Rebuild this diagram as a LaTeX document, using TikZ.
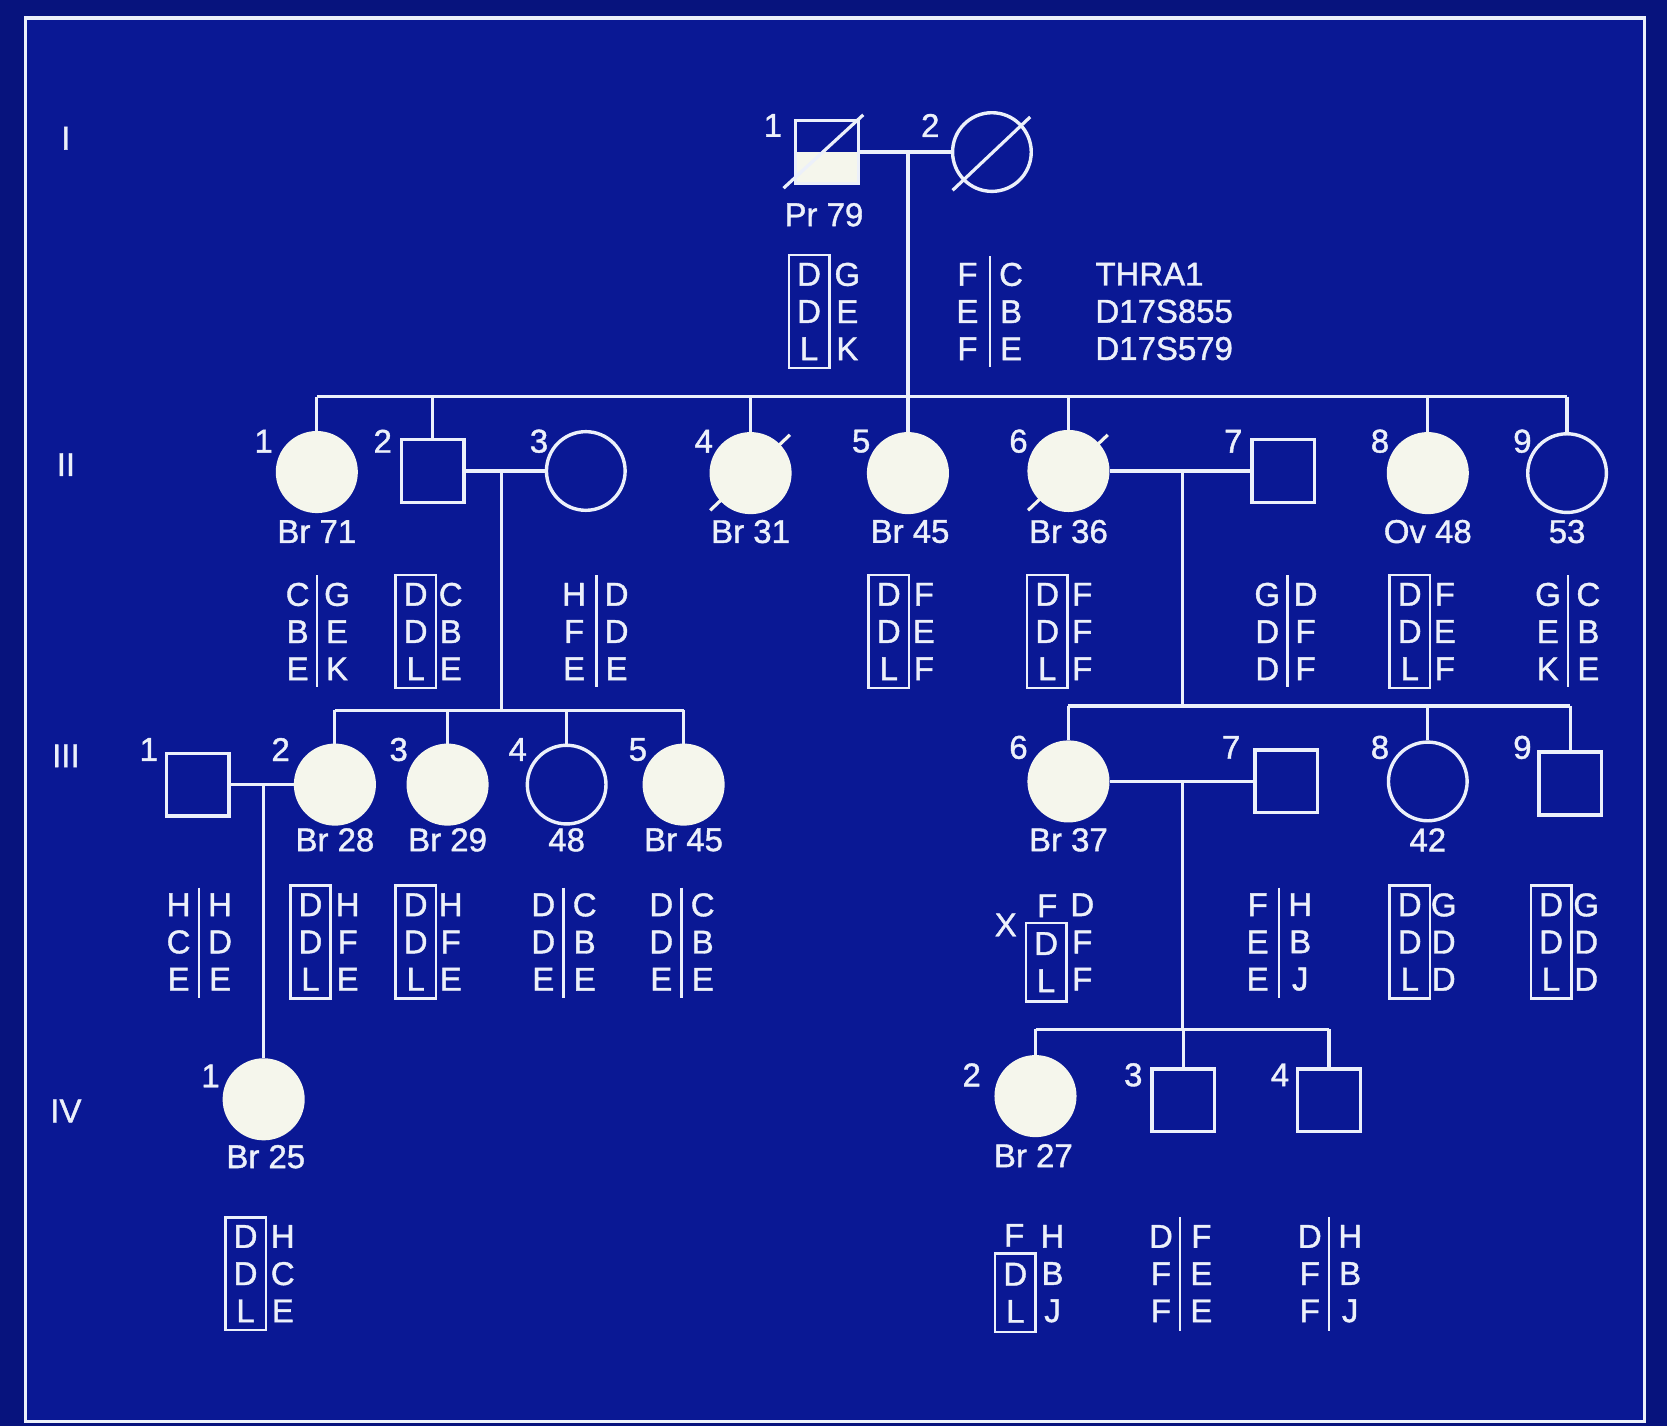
\documentclass[tikz,border=0pt]{standalone}
\usepackage{fontspec}
\setmainfont{Liberation Sans}[FakeBold=1.2]
\usetikzlibrary{calc}
\definecolor{bg}{RGB}{10,24,148}
\definecolor{bgout}{RGB}{7,19,125}
\definecolor{fg}{RGB}{236,240,250}
\definecolor{fgfill}{RGB}{245,246,236}
\newcommand{\hapfont}{\fontsize{15.5}{17.5}\selectfont}
\newcommand{\lblfont}{\fontsize{15.5}{17.5}\selectfont}
\begin{document}
\begin{tikzpicture}[x=0.5pt,y=-0.5pt,
  ind/.style={draw=fg, line width=1.6pt, inner sep=0pt},
  fem/.style={ind, circle, minimum size=37pt},
  affF/.style={fem, fill=fgfill, draw=fgfill},
  mal/.style={ind, rectangle, minimum size=29.5pt},
  halfmal/.style={mal, path picture={\fill[fgfill] (path picture bounding box.west) rectangle (path picture bounding box.south east);}},
  lbl/.style={text=fg, font=\lblfont, inner sep=0pt},
  hap/.style={text=fg, font=\hapfont, align=center, inner sep=0pt},
  hapbox/.style={hap, draw=fg, line width=1.2pt, minimum width=19pt, minimum height=53pt},
  hapboxs/.style={hap, draw=fg, line width=1.2pt, minimum width=19pt, minimum height=37pt},
  conn/.style={draw=fg, line width=1.5pt},
  dec/.style={draw=fgfill, line width=1.5pt},
  bar/.style={draw=fg, line width=1.2pt}]
\useasboundingbox (0,0) rectangle (1568,1341);
\fill[bgout] (0,0) rectangle (1568,1341);
\fill[bg] (24,17) rectangle (1547,1337);
\draw[fg, line width=1.5pt] (24,17) rectangle (1547,1337);

% generation labels
\node[lbl] (gI) at (62,130) {I};
\node[lbl] (gII) at (62,437) {II};
\node[lbl] (gIII) at (62,711) {III};
\node[lbl] (gIV) at (62,1045) {IV};

% ---------- Generation I
\node[halfmal] (I1) at (778,143) {};
\node[fem] (I2) at (933,143) {};
\draw[conn] ($(I1)+(-41,34)$) -- ($(I1)+(34,-35)$);
\draw[conn] ($(I2)+(-37,36)$) -- ($(I2)+(36,-33)$);
\node[lbl] (nI1) at (727,118) {1};
\node[lbl] (nI2) at (875,118) {2};
\node[lbl] (aI1) at (775,202) {Pr 79};
\draw[conn] (I1.east) -- (I2.west);
\coordinate (mI) at (854,143);
\coordinate (sII) at (854,373);
\draw[conn] (mI) -- (sII);

\node[hapbox] (hI1a) at (761,293) {D\\D\\L};
\node[hap] (hI1b) at (797,293) {G\\E\\K};
\node[hap] (hI2a) at (910,293) {F\\E\\F};
\node[hap] (hI2b) at (951,293) {C\\B\\E};
\draw[bar] (931,241) -- (931,345);
\node[hap, align=left, anchor=west] (mk) at (1030,293) {THRA1\\D17S855\\D17S579};

% ---------- Generation II
\node[affF] (II1) at (298,444) {};
\node[mal] (II2) at (407,443) {};
\node[fem] (II3) at (551,443) {};
\node[affF] (II4) at (706,445) {};
\node[affF] (II5) at (854,445) {};
\node[affF] (II6) at (1005,443) {};
\node[mal] (II7) at (1207,443) {};
\node[affF] (II8) at (1343,445) {};
\node[fem] (II9) at (1474,445) {};
\draw[dec] ($(II4)+(-38,35)$) -- ($(II4)+(37,-36)$);
\draw[dec] ($(II6)+(-38,37)$) -- ($(II6)+(37,-34)$);

\draw[conn] (II1.north |- sII) -- (II9.north |- sII);
\foreach \n in {II1,II2,II4,II5,II6,II8,II9} \draw[conn] (\n.north |- sII) -- (\n.north);

\node[lbl] (nII1) at (248,415) {1};
\node[lbl] (nII2) at (360,415) {2};
\node[lbl] (nII3) at (507,415) {3};
\node[lbl] (nII4) at (662,415) {4};
\node[lbl] (nII5) at (810,415) {5};
\node[lbl] (nII6) at (958,415) {6};
\node[lbl] (nII7) at (1160,415) {7};
\node[lbl] (nII8) at (1298,415) {8};
\node[lbl] (nII9) at (1432,415) {9};
\node[lbl] (aII1) at (298,500) {Br 71};
\node[lbl] (aII4) at (706,500) {Br 31};
\node[lbl] (aII5) at (856,500) {Br 45};
\node[lbl] (aII6) at (1005,500) {Br 36};
\node[lbl] (aII8) at (1343,500) {Ov 48};
\node[lbl] (aII9) at (1474,500) {53};

\draw[conn] (II2.east) -- (II3.west);
\coordinate (mII23) at (472,443);
\coordinate (sIIIa) at (472,668);
\draw[conn] (mII23) -- (sIIIa);
\draw[conn] (II6.east) -- (II7.west);
\coordinate (mII67) at (1112,443);
\coordinate (sIIIb) at (1112,664);
\draw[conn] (mII67) -- (sIIIb);

% haplotypes II
\node[hap] (hII1a) at (280,594) {C\\B\\E};
\node[hap] (hII1b) at (317,594) {G\\E\\K};
\draw[bar] (298,541) -- (298,646);
\node[hapbox] (hII2a) at (391,594) {D\\D\\L};
\node[hap] (hII2b) at (424,594) {C\\B\\E};
\node[hap] (hII3a) at (540,594) {H\\F\\E};
\node[hap] (hII3b) at (580,594) {D\\D\\E};
\draw[bar] (561,541) -- (561,646);
\node[hapbox] (hII5a) at (836,594) {D\\D\\L};
\node[hap] (hII5b) at (869,594) {F\\E\\F};
\node[hapbox] (hII6a) at (985,594) {D\\D\\L};
\node[hap] (hII6b) at (1018,594) {F\\F\\F};
\node[hap] (hII7a) at (1192,594) {G\\D\\D};
\node[hap] (hII7b) at (1228,594) {D\\F\\F};
\draw[bar] (1211,541) -- (1211,646);
\node[hapbox] (hII8a) at (1326,594) {D\\D\\L};
\node[hap] (hII8b) at (1359,594) {F\\E\\F};
\node[hap] (hII9a) at (1456,594) {G\\E\\K};
\node[hap] (hII9b) at (1494,594) {C\\B\\E};
\draw[bar] (1475,541) -- (1475,646);

% ---------- Generation III
\node[mal] (III1) at (186,738) {};
\node[affF] (III2) at (315,738) {};
\node[affF] (III3) at (421,738) {};
\node[fem] (III4) at (533,738) {};
\node[affF] (III5) at (643,738) {};
\node[affF] (III6) at (1005,735) {};
\node[mal] (III7) at (1210,735) {};
\node[fem] (III8) at (1343,735) {};
\node[mal] (III9) at (1477,737) {};

\draw[conn] (III2.north |- sIIIa) -- (III5.north |- sIIIa);
\foreach \n in {III2,III3,III4,III5} \draw[conn] (\n.north |- sIIIa) -- (\n.north);
\draw[conn] (III6.north |- sIIIb) -- (III9.north |- sIIIb);
\foreach \n in {III6,III8,III9} \draw[conn] (\n.north |- sIIIb) -- (\n.north);

\node[lbl] (nIII1) at (140,705) {1};
\node[lbl] (nIII2) at (264,705) {2};
\node[lbl] (nIII3) at (375,705) {3};
\node[lbl] (nIII4) at (487,705) {4};
\node[lbl] (nIII5) at (600,705) {5};
\node[lbl] (nIII6) at (958,703) {6};
\node[lbl] (nIII7) at (1158,703) {7};
\node[lbl] (nIII8) at (1298,703) {8};
\node[lbl] (nIII9) at (1432,703) {9};
\node[lbl] (aIII2) at (315,790) {Br 28};
\node[lbl] (aIII3) at (421,790) {Br 29};
\node[lbl] (aIII4) at (533,790) {48};
\node[lbl] (aIII5) at (643,790) {Br 45};
\node[lbl] (aIII6) at (1005,790) {Br 37};
\node[lbl] (aIII8) at (1343,790) {42};

\draw[conn] (III1.east) -- (III2.west);
\coordinate (mIII12) at (248,738);
\draw[conn] (III6.east) -- (III7.west);
\coordinate (mIII67) at (1112,735);
\coordinate (sIV) at (1112,968);
\draw[conn] (mIII67) -- (sIV);

% haplotypes III
\node[hap] (hIII1a) at (168,886) {H\\C\\E};
\node[hap] (hIII1b) at (207,886) {H\\D\\E};
\draw[bar] (187,835) -- (187,939);
\node[hapbox] (hIII2a) at (292,886) {D\\D\\L};
\node[hap] (hIII2b) at (327,886) {H\\F\\E};
\node[hapbox] (hIII3a) at (391,886) {D\\D\\L};
\node[hap] (hIII3b) at (424,886) {H\\F\\E};
\node[hap] (hIII4a) at (511,886) {D\\D\\E};
\node[hap] (hIII4b) at (550,886) {C\\B\\E};
\draw[bar] (530,835) -- (530,939);
\node[hap] (hIII5a) at (622,886) {D\\D\\E};
\node[hap] (hIII5b) at (661,886) {C\\B\\E};
\draw[bar] (641,835) -- (641,939);
\node[hap] (hIII6t) at (985,852) {F};
\node[hapboxs] (hIII6a) at (984,905) {D\\L};
\node[hap] (hIII6b) at (1018,886) {D\\F\\F};
\node[lbl] (xIII6) at (946,870) {X};
\node[hap] (hIII7a) at (1183,886) {F\\E\\E};
\node[hap] (hIII7b) at (1223,886) {H\\B\\J};
\draw[bar] (1203,835) -- (1203,939);
\node[hapbox] (hIII8a) at (1326,886) {D\\D\\L};
\node[hap] (hIII8b) at (1358,886) {G\\D\\D};
\node[hapbox] (hIII9a) at (1459,886) {D\\D\\L};
\node[hap] (hIII9b) at (1492,886) {G\\D\\D};

% ---------- Generation IV
\node[affF] (IV1) at (248,1034) {};
\node[affF] (IV2) at (974,1031) {};
\node[mal] (IV3) at (1113,1035) {};
\node[mal] (IV4) at (1250,1035) {};
\draw[conn] (mIII12) -- (IV1.north);
\draw[conn] (IV2.north |- sIV) -- (IV4.north |- sIV);
\foreach \n in {IV2,IV3,IV4} \draw[conn] (\n.north |- sIV) -- (\n.north);

\node[lbl] (nIV1) at (198,1012) {1};
\node[lbl] (nIV2) at (914,1011) {2};
\node[lbl] (nIV3) at (1066,1011) {3};
\node[lbl] (nIV4) at (1204,1011) {4};
\node[lbl] (aIV1) at (250,1088) {Br 25};
\node[lbl] (aIV2) at (972,1087) {Br 27};

% haplotypes IV
\node[hapbox] (hIV1a) at (231,1198) {D\\D\\L};
\node[hap] (hIV1b) at (266,1198) {H\\C\\E};
\node[hap] (hIV2t) at (954,1162) {F};
\node[hapboxs] (hIV2a) at (955,1216) {D\\L};
\node[hap] (hIV2b) at (990,1198) {H\\B\\J};
\node[hap] (hIV3a) at (1092,1198) {D\\F\\F};
\node[hap] (hIV3b) at (1130,1198) {F\\E\\E};
\draw[bar] (1110,1145) -- (1110,1252);
\node[hap] (hIV4a) at (1232,1198) {D\\F\\F};
\node[hap] (hIV4b) at (1270,1198) {H\\B\\J};
\draw[bar] (1250,1145) -- (1250,1252);
\end{tikzpicture}
\end{document}
